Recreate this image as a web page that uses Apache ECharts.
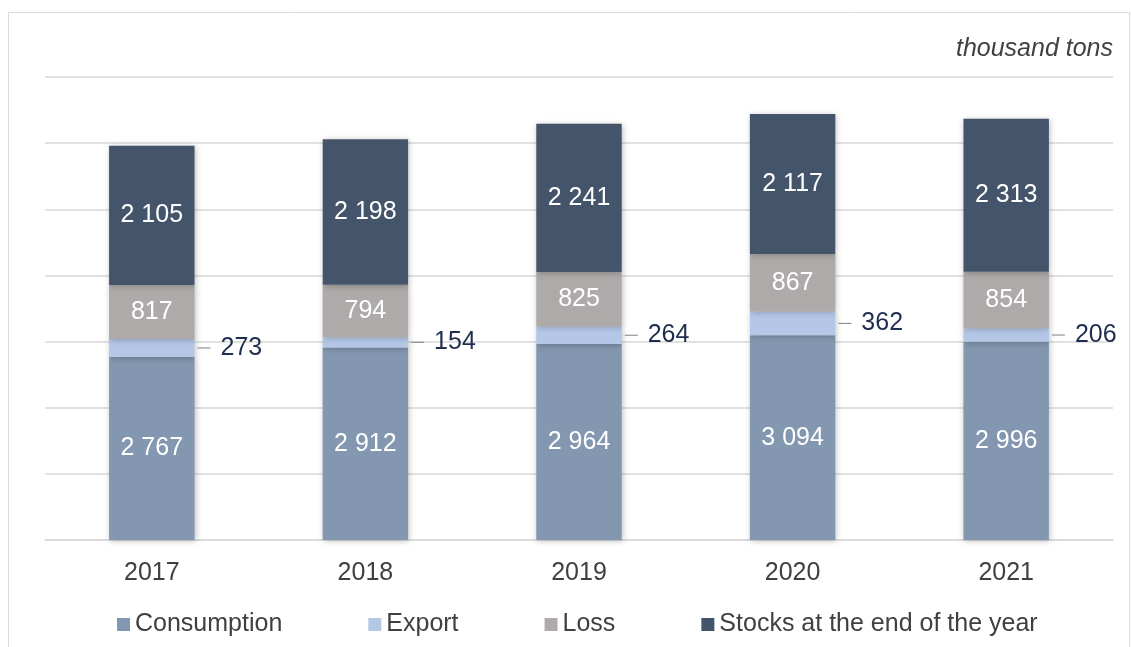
<!DOCTYPE html>
<html>
<head>
<meta charset="utf-8">
<script src="https://cdn.jsdelivr.net/npm/echarts@6/dist/echarts.min.js"></script>
<style>
  html, body { margin: 0; padding: 0; background: #fff; }
  #chart { width: 1131px; height: 647px; }
</style>
</head>
<body>
<div id="chart"></div>
<script>
// data (thousand tons)
var years = ['2017', '2018', '2019', '2020', '2021'];
var consumption = [2767, 2912, 2964, 3094, 2996];
var exportVals = [273, 154, 264, 362, 206];
var loss = [817, 794, 825, 867, 854];
var stocks = [2105, 2198, 2241, 2117, 2313];

var font = 'Liberation Sans, Arial, sans-serif';

function fmt(v) {
  return String(v).replace(/\B(?=(\d{3})+(?!\d))/g, ' ');
}

var insideLabel = {
  show: true,
  position: 'inside',
  color: '#ffffff',
  fontSize: 25,
  fontFamily: font,
  formatter: function (p) { return fmt(p.value); }
};

var shadow = {
  shadowBlur: 6,
  shadowColor: 'rgba(0,0,0,0.25)',
  shadowOffsetX: 1,
  shadowOffsetY: 1
};

var chart = echarts.init(document.getElementById('chart'));
chart.setOption({
  animation: false,
  textStyle: { fontFamily: font },
  graphic: [{
    type: 'rect',
    shape: { x: 8.5, y: 12.5, width: 1121, height: 640 },
    style: { fill: 'none', stroke: '#dcdcdc', lineWidth: 1 },
    silent: true
  }, {
    type: 'text',
    right: 18,
    top: 37,
    style: {
      text: 'thousand tons',
      font: 'italic 25px ' + font,
      fill: '#404040'
    }
  }],
  grid: { left: 45, right: 18, top: 77, bottom: 107 },
  legend: {
    bottom: 5,
    left: 112,
    itemWidth: 13,
    itemHeight: 13,
    itemGap: 86,
    icon: 'rect',
    textStyle: { fontSize: 25, color: '#404040', fontFamily: font },
    data: ['Consumption', 'Export', 'Loss', 'Stocks at the end of the year']
  },
  xAxis: {
    type: 'category',
    data: years,
    axisTick: { show: false },
    axisLine: { lineStyle: { color: '#d9d9d9', width: 1.5 } },
    axisLabel: { fontSize: 25, color: '#404040', margin: 21, fontFamily: font }
  },
  yAxis: {
    type: 'value',
    min: 0,
    max: 7000,
    interval: 1000,
    axisLabel: { show: false },
    axisLine: { show: false },
    axisTick: { show: false },
    splitLine: { lineStyle: { color: '#d9d9d9', width: 1.5 } }
  },
  series: [{
    name: 'Consumption',
    type: 'bar',
    stack: 'total',
    barWidth: '40%',
    data: consumption,
    itemStyle: Object.assign({ color: '#8497b0' }, shadow),
    label: insideLabel
  }, {
    name: 'Export',
    type: 'bar',
    stack: 'total',
    data: exportVals,
    itemStyle: Object.assign({ color: '#b4c7e7' }, shadow),
    label: {
      show: true,
      position: 'right',
      distance: 3,
      formatter: function (p) { return '{l|}{v|' + fmt(p.value) + '}'; },
      rich: {
        l: { width: 13, height: 1, backgroundColor: '#7f7f7f' },
        v: { fontSize: 25, color: '#1f2d4e', padding: [0, 0, 0, 10], fontFamily: font }
      }
    }
  }, {
    name: 'Loss',
    type: 'bar',
    stack: 'total',
    data: loss,
    itemStyle: Object.assign({ color: '#aeaaaa' }, shadow),
    label: insideLabel
  }, {
    name: 'Stocks at the end of the year',
    type: 'bar',
    stack: 'total',
    data: stocks,
    itemStyle: Object.assign({ color: '#44546a' }, shadow),
    label: insideLabel
  }]
});
</script>
</body>
</html>
